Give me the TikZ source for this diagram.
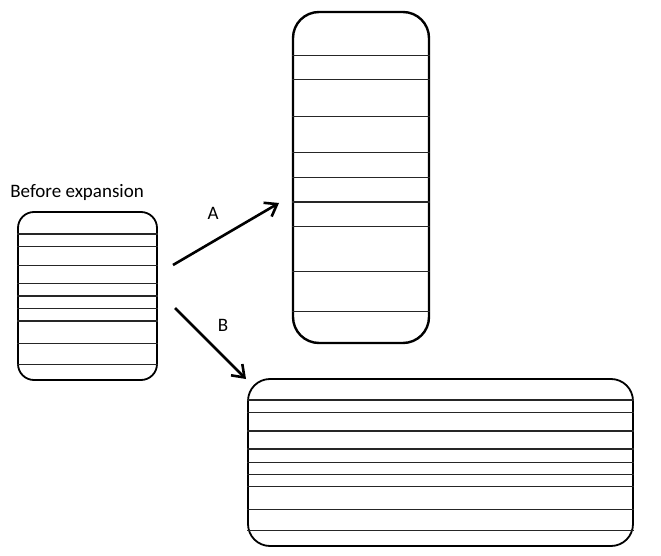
\documentclass[tikz,border=0pt]{standalone}
\usepackage{fontspec}
\setmainfont{Carlito}
\usetikzlibrary{positioning, arrows.meta}

\begin{document}
\begin{tikzpicture}[x=1pt, y=-1pt,
thick,
>={Straight Barb[length=11pt, width=16pt]},
block/.style={draw, rectangle, line width=1.8pt, inner sep=0pt},
stripe/.style={draw, line width=1.3pt, black!85},
lbl/.style={inner sep=0pt, font=\fontsize{19}{23}\selectfont}]

\useasboundingbox (0,0) rectangle (661,556);

\node[block, rounded corners=16pt, minimum width=139pt, minimum height=168pt]	(small)	at (87.5,296)	{};
\node[block, rounded corners=26pt, line width=2.4pt, minimum width=136pt, minimum height=331pt]	(tall)	at (361,177.5)	{};
\node[block, rounded corners=22pt, minimum width=385pt, minimum height=167pt]	(wide)	at (440.5,462.5)	{};

\node[lbl, anchor=base west]	(title)	at (10,197)	{Before expansion};

% stripes
\foreach \y in {234, 246.5, 265.5, 283.5, 296, 308.5, 321, 343.5, 364.5}
 \draw[stripe] (small.west |- 0,\y) -- (small.east |- 0,\y);
\foreach \y in {55.5, 79.5, 116.5, 152.5, 177.5, 202, 226.5, 271.5, 311.5}
 \draw[stripe, line width=1.6pt] (tall.west |- 0,\y) -- (tall.east |- 0,\y);
\foreach \y in {400, 412.5, 431, 449, 462.5, 474.5, 486.5, 509.5, 530.5}
 \draw[stripe] (wide.west |- 0,\y) -- (wide.east |- 0,\y);

\coordinate (a1) at (173,265);
\coordinate (a2) at (279,203);
\coordinate (b1) at (175,308);
\coordinate (b2) at (246,379);
\node[lbl] (A) at (213,213) {A};
\node[lbl] (B) at (223,325) {B};

\path[->, line width=2.6pt]
 (a1) edge (a2)
 (b1) edge (b2);

\end{tikzpicture}
\end{document}
